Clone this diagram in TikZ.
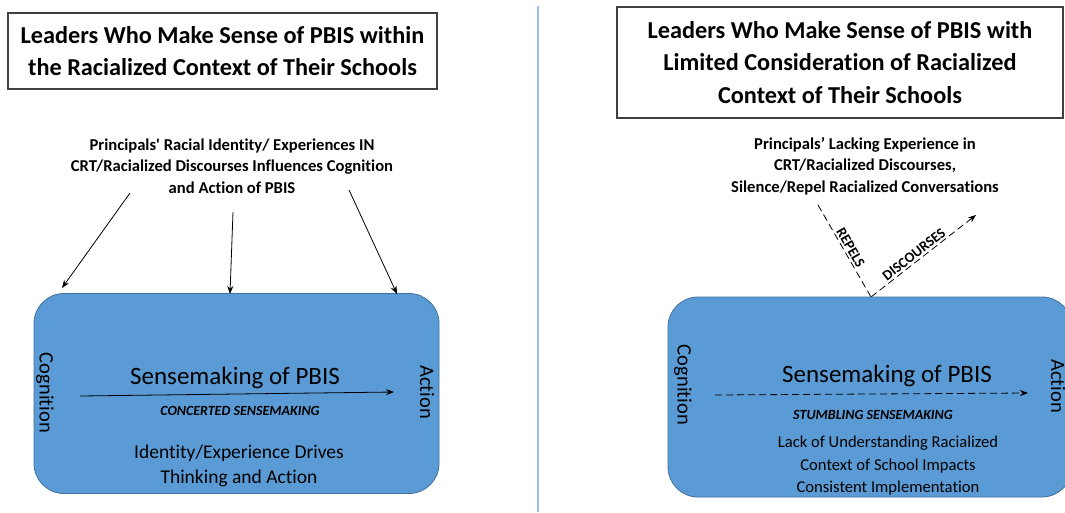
\documentclass[tikz,border=0pt]{standalone}
\usepackage{fontspec}
\setmainfont{Carlito}[Ligatures={TeX,NoCommon}]
\usetikzlibrary{arrows.meta}

\definecolor{boxblue}{RGB}{91,155,213}
\definecolor{boxedge}{RGB}{65,113,156}
\definecolor{divblue}{RGB}{150,192,236}

\tikzset{
  titlebox/.style={draw=black!75,line width=1.2pt,align=center,inner sep=0pt,
    font=\fontsize{24.3}{32.5}\selectfont\bfseries},
  bluebox/.style={draw=boxedge,fill=boxblue,rounded corners=30pt,line width=0.8pt,
    minimum width=405pt,minimum height=200pt},
  srctext/.style={align=center,font=\fontsize{16.6}{21.5}\selectfont\bfseries},
  sense/.style={font=\fontsize{25}{28}\selectfont},
  mode/.style={font=\fontsize{14}{16}\selectfont\bfseries\itshape},
  side/.style={rotate=-90,font=\fontsize{20.5}{24}\selectfont},
  effect/.style={align=center},
  tag/.style={font=\fontsize{14.5}{16}\selectfont\bfseries,inner sep=2pt},
  arr/.style={-{Stealth[length=8pt,width=6pt]},line width=0.8pt},
  dashline/.style={line width=0.8pt,dash pattern=on 7pt off 4pt}
}

\begin{document}
\begin{tikzpicture}[x=1pt,y=-1pt]
\useasboundingbox (0,0) rectangle (1065,512);
\clip (0,0) rectangle (1065,512);
\fill[white] (0,0) rectangle (1065,512);

\draw[divblue,line width=1.5pt] (538,6) -- (538,512);

% left half
\node[titlebox,minimum width=429pt,minimum height=76pt] (ltitle) at (222.5,51)
  {Leaders Who Make Sense of PBIS within\\the Racialized Context of Their Schools};
\node[srctext] (lsrc) at (232,166)
  {Principals\textquotesingle{}  Racial  Identity/ Experiences IN\\CRT/Racialized  Discourses Influences Cognition\\and Action of PBIS};
\node[bluebox] (lbox) at (236.5,393.5) {};
\node[side] (lcog) at (45,393) {Cognition};
\node[side] (lact) at (427,392) {Action};
\node[sense] (lsense) at (235,378) {Sensemaking of PBIS};
\node[mode] (lmode) at (240,411) {CONCERTED SENSEMAKING};
\node[effect,font=\fontsize{19.5}{25}\selectfont] (leff) at (239,466)
  {Identity/Experience Drives\\Thinking and Action};

\coordinate (ls1) at (130,193);
\coordinate (ls2) at (233,212);
\coordinate (ls3) at (349,190);
\coordinate (le1) at (62,288);
\coordinate (le2) at (230,294);
\coordinate (le3) at (397,294);
\draw[arr] (ls1) -- (le1);
\draw[arr] (ls2) -- (le2);
\draw[arr] (ls3) -- (le3);

\coordinate (lcs) at (80,396);
\coordinate (lca) at (394,392);
\draw[arr] (lcs) -- (lca);

% right half
\node[titlebox,minimum width=446pt,minimum height=111pt] (rtitle) at (840,62.5)
  {Leaders Who Make Sense of PBIS with\\Limited Consideration of Racialized\\Context of Their Schools};
\node[srctext] (rsrc) at (865,166)
  {Principals’  Lacking Experience  in\\CRT/Racialized  Discourses,\\Silence/Repel  Racialized  Conversations};

\coordinate (rtop) at (818,205);
\coordinate (rfoot) at (871,297);
\coordinate (rtip) at (976,215);
\draw[dashline] (rtop) -- node[tag,midway,sloped,above] {REPELS} (rfoot);
\draw[dashline,arr] (rfoot) -- node[tag,pos=0.45,sloped,above] {DISCOURSES} (rtip);

\node[bluebox,minimum width=404pt] (rbox) at (870,397) {};
\node[side] (rcog) at (683,385) {Cognition};
\node[side] (ract) at (1058,386) {Action};
\node[sense] (rsense) at (887,376) {Sensemaking of PBIS};
\node[mode] (rmode) at (873,415) {STUMBLING SENSEMAKING};
\node[effect,font=\fontsize{16.6}{22.5}\selectfont] (reff) at (888,466)
  {Lack of Understanding  Racialized\\Context  of  School  Impacts\\Consistent  Implementation};

\coordinate (rcs) at (715,395);
\coordinate (rca) at (1028,393);
\draw[dashline,arr] (rcs) -- (rca);
\end{tikzpicture}
\end{document}
